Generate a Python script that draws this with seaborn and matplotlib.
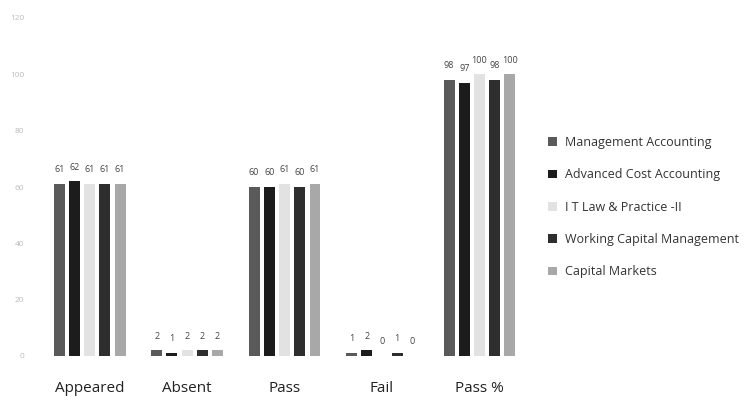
import pandas as pd
import seaborn as sns
import matplotlib.pyplot as plt

# data
categories = ['Appeared', 'Absent', 'Pass', 'Fail', 'Pass %']
subjects = ['Management Accounting', 'Advanced Cost Accounting',
            'I T Law & Practice -II', 'Working Capital Management',
            'Capital Markets']
management_accounting = [61, 2, 60, 1, 98]
advanced_cost_accounting = [62, 1, 60, 2, 97]
it_law_practice = [61, 2, 61, 0, 100]
working_capital_mgmt = [61, 2, 60, 1, 98]
capital_markets = [61, 2, 61, 0, 100]

series = [management_accounting, advanced_cost_accounting, it_law_practice,
          working_capital_mgmt, capital_markets]
rows = []
for subj, vals in zip(subjects, series):
    for cat, v in zip(categories, vals):
        rows.append({'category': cat, 'subject': subj, 'value': v})
df = pd.DataFrame(rows)

sns.set_style('white')
plt.rcParams['font.family'] = ['Open Sans', 'DejaVu Sans']

colors = ['#5a5a5a', '#1c1c1c', '#e2e2e2', '#2e2e2e', '#a8a8a8']

fig = plt.figure(figsize=(7.44, 4), dpi=100)
ax = fig.add_axes([0.055, 0.11, 0.655, 0.845])
sns.barplot(data=df, x='category', y='value', hue='subject', order=categories,
            hue_order=subjects, palette=colors, width=0.78, gap=0.28,
            edgecolor='none', ax=ax, legend=True)

for cont in ax.containers:
    ax.bar_label(cont, labels=[f'{int(v)}' for v in cont.datavalues],
                 padding=7, fontsize=6.5, color='#444444')

ax.set_ylim(0, 120)
ax.set_yticks(range(0, 121, 20))
ax.tick_params(axis='y', labelsize=6, colors='#bbbbbb', length=0, pad=12)
ax.tick_params(axis='x', labelsize=11, colors='#222222', length=0, pad=18)
ax.set_xlabel('')
ax.set_ylabel('')
sns.despine(ax=ax, left=True, bottom=True)

handles, labels = ax.get_legend_handles_labels()
ax.get_legend().remove()
fig.legend(handles, labels, loc='center left', bbox_to_anchor=(0.722, 0.482),
           frameon=False, fontsize=9, labelspacing=1.55, handlelength=0.7,
           handleheight=0.7, handletextpad=0.6, labelcolor='#333333')

fig.savefig('out.png', dpi=100)
